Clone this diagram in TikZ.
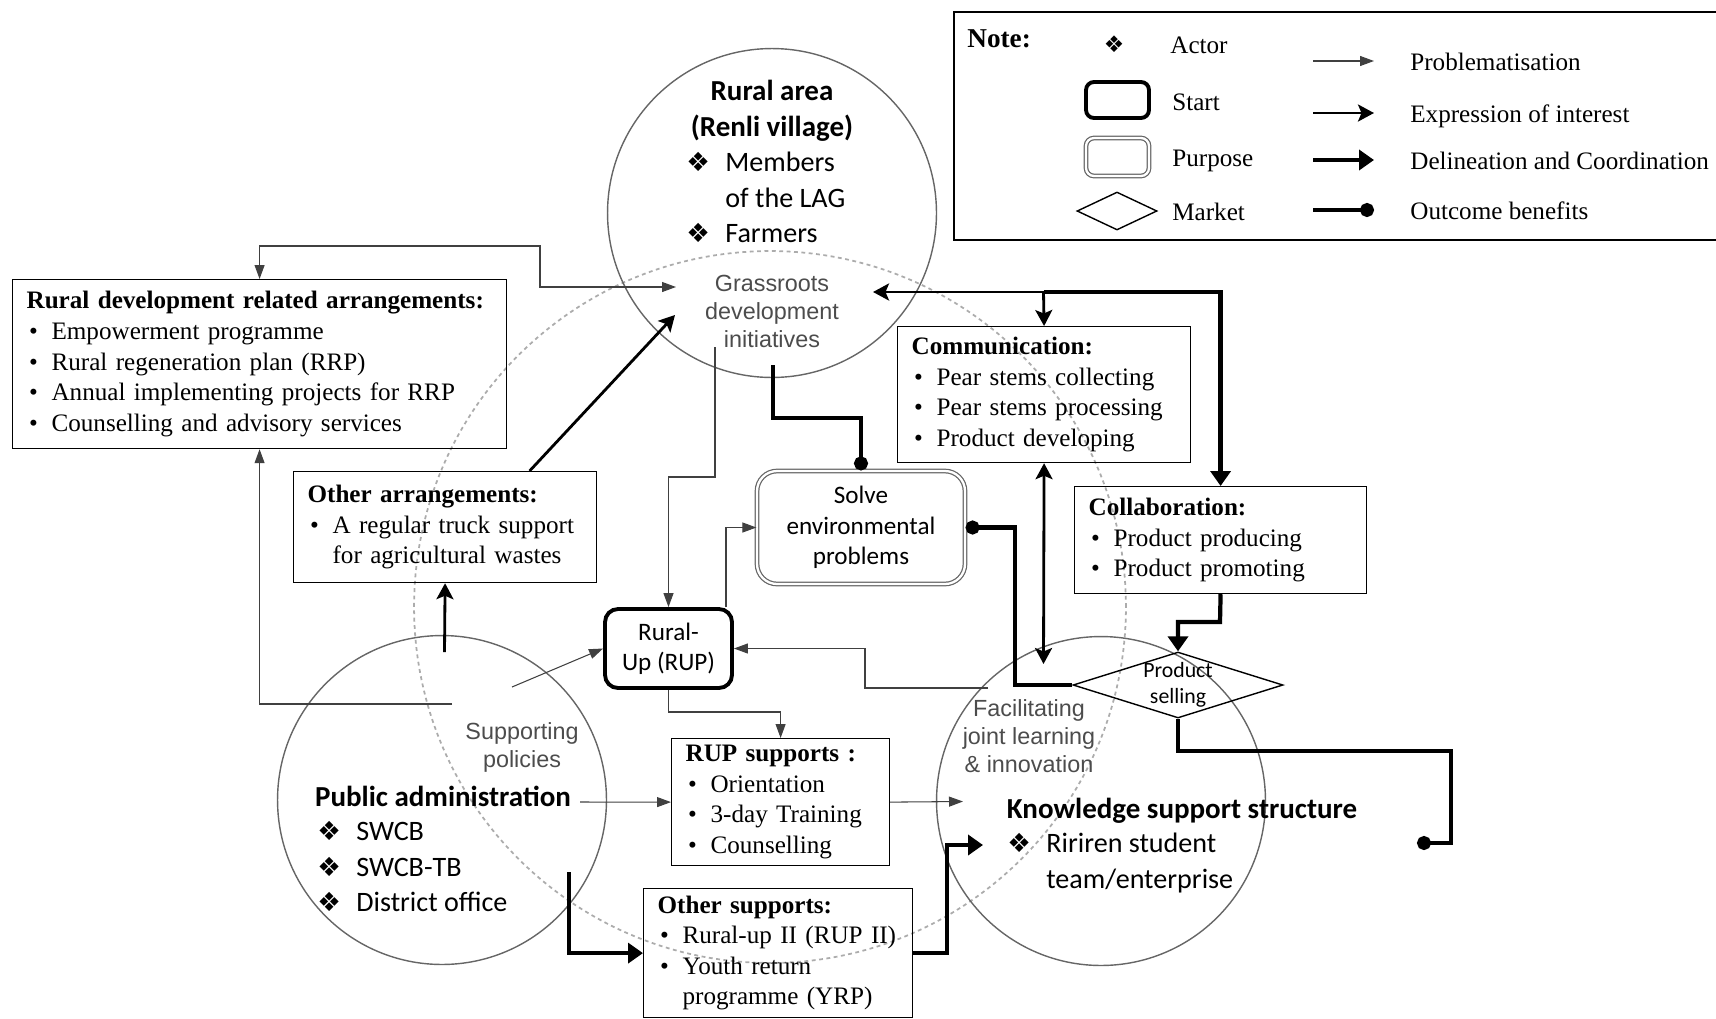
\documentclass[tikz,border=0pt]{standalone}
\usepackage{fontspec}
\setmainfont{Liberation Serif}
\newfontfamily\calib{Carlito}
\newfontfamily\grfont{Liberation Sans}
\newfontfamily\symfont{DejaVu Sans}
\usetikzlibrary{arrows.meta,shapes.geometric}

\newcommand{\act}{\makebox[0.78cm][l]{\symfont\fontsize{15}{15}\selectfont ❖}}
\newcommand{\itm}{\makebox[0.5cm][l]{\hspace{0.05cm}\textbullet}}

\begin{document}
\begin{tikzpicture}[
        x=0.02cm, y=-0.02cm,
        prob/.style={line width=0.6pt, draw=black!75, >={Triangle[length=0.28cm,width=0.2cm]}},
        expr/.style={line width=1.6pt, >={Stealth[length=0.32cm,width=0.34cm,inset=0.07cm]}},
        deli/.style={line width=2.4pt, >={Triangle[length=0.3cm,width=0.4cm]}},
        outc/.style={line width=2.4pt, -{Circle[length=0.28cm]}},
        box/.style={draw, line width=0.7pt, anchor=north west, align=left,
            inner xsep=0.28cm, inner ysep=0pt, font=\fontsize{14.3}{17.4}\selectfont},
        actor/.style={circle, draw=black!60, line width=0.8pt, minimum size=6.58cm, inner sep=0},
        start/.style={draw, line width=2.2pt, rounded corners=0.26cm, align=center},
        purp/.style={draw=black!60, double, double distance=1.3pt, line width=0.7pt,
            rounded corners=0.4cm, align=center},
        market/.style={diamond, draw, line width=0.8pt, inner sep=0},
        ctxt/.style={font=\calib\fontsize{16}{20}\selectfont, inner sep=0},
        ttxt/.style={inner sep=0, font=\calib\bfseries\fontsize{16.5}{20}\selectfont},
        gtxt/.style={text=black!70, font=\grfont\fontsize{13.3}{15.9}\selectfont, align=center, inner sep=0},
        ltxt/.style={anchor=base west, inner sep=0, font=\fontsize{14.3}{17}\selectfont},
        ]
        \useasboundingbox (0,0) rectangle (1716,1018);

        % Actors and the wider network
        \node[circle, draw=gray!65, line width=1pt, dash pattern=on 2.2pt off 2pt,
            minimum size=14.24cm, inner sep=0] (net) at (770,607) {};
        \node[actor] (rural) at (772,213) {};
        \node[actor] (admin) at (442,800) {};
        \node[actor] (know) at (1101,801) {};

        % Circle texts
        \node[ttxt, anchor=north, align=center] (ruraltit) at (772,76) {\strut Rural area\\(Renli village)};
        \node[ctxt, anchor=north west, align=left] (rurallst) at (686,147)
            {\strut\act Members\\\hspace*{0.78cm}of the LAG\\\act Farmers};
        \node[gtxt, anchor=north] (grass) at (772,272) {\strut Grassroots\\development\\initiatives};

        \node[gtxt, anchor=north] (supp) at (522,720) {\strut Supporting\\policies};
        \node[ttxt, anchor=base] (admintit) at (443,806) {Public administration};
        \node[ctxt, anchor=north west, align=left] (adminlst) at (317,816)
            {\strut\act SWCB\\\act SWCB-TB\\\act District office};

        \node[gtxt, anchor=north] (facil) at (1029,697) {\strut Facilitating\\joint learning\\\& innovation};
        \node[ttxt, anchor=base] (knowtit) at (1182,818) {Knowledge support structure};
        \node[ctxt, anchor=north west, align=left] (knowlst) at (1007,828)
            {\strut\act Ririren student\\\hspace*{0.78cm}team/enterprise};

        % Arrangement boxes
        \node[box, text width=9.32cm, minimum height=3.38cm] (rda) at (12,279)
            {\textbf{Rural development related arrangements:}\\
             \itm Empowerment programme\\
             \itm Rural regeneration plan (RRP)\\
             \itm Annual implementing projects for RRP\\
             \itm Counselling and advisory services};
        \node[box, text width=5.5cm, minimum height=2.22cm] (oarr) at (293,471)
            {\textbf{Other arrangements:}\\
             \itm A regular truck support\\
             \hspace*{0.5cm}for agricultural wastes};
        \node[box, text width=5.3cm, minimum height=2.72cm] (comm) at (897,326)
            {\textbf{Communication:}\\
             \itm Pear stems collecting\\
             \itm Pear stems processing\\
             \itm Product developing};
        \node[box, text width=5.28cm, minimum height=2.14cm] (collab) at (1074,486)
            {\textbf{Collaboration:}\\
             \itm Product producing\\
             \itm Product promoting};
        \node[box, text width=3.8cm, minimum height=2.54cm] (rupsup) at (671,738)
            {\textbf{RUP supports :}\\
             \itm Orientation\\
             \itm 3-day Training\\
             \itm Counselling};
        \node[box, text width=4.82cm, minimum height=2.58cm] (osup) at (643,888)
            {\textbf{Other supports:}\\
             \itm Rural-up II (RUP II)\\
             \itm Youth return\\
             \hspace*{0.5cm}programme (YRP)};

        % Start, purpose and market
        \node[start, minimum width=2.54cm, minimum height=1.58cm, font=\calib\fontsize{14.3}{17}\selectfont]
            (rup) at (668.5,648.5) {Rural-\\Up (RUP)};
        \node[purp, minimum width=4.16cm, minimum height=2.26cm, font=\calib\fontsize{14.3}{17.5}\selectfont]
            (solve) at (861,527.5) {Solve\\environmental\\problems};
        \node[market, minimum width=4.2cm, minimum height=1.32cm] (sell) at (1178,685) {};
        \node[align=center, inner sep=0, font=\calib\fontsize{12.4}{14.7}\selectfont]
            (selltxt) at (sell.center) {Product\\selling};

        % Free ends
        \coordinate (g1) at (676,287);
        \coordinate (g2) at (675,315);
        \coordinate (g3) at (715,347);
        \coordinate (g4) at (773,365);
        \coordinate (g5) at (873,292);
        \coordinate (jn) at (1043.5,292);
        \coordinate (p1) at (452,704);
        \coordinate (p2) at (444.5,652);
        \coordinate (p3) at (512,687);
        \coordinate (p4) at (580,802);
        \coordinate (p5) at (569,872);
        \coordinate (k1) at (988,688);
        \coordinate (k2) at (963,801.5);
        \coordinate (k3) at (983,845);
        \coordinate (k4) at (1043.5,664);
        \coordinate (k5) at (1417,843);

        % Connectors
        \draw[prob,<->] (rda.north) |- (540,246) |- (g1);
        \draw[prob,->] (p1) -| (rda.south);
        \draw[expr,->] (p2) -- (oarr.south);
        \draw[expr,->] ([xshift=1.69cm]oarr.north) -- (g2);
        \draw[prob,->] (p3) -- (rup.west);
        \draw[prob,->] (g3) -- (715,477) -| (rup.north);
        \draw[prob,->] ([xshift=1.15cm]rup.north) |- (solve.west);
        \draw[outc] (g4) -- (773,418) -| (solve.north);
        \draw[outc] (sell.west) -| (1015,560) |- (solve.east);
        \draw[expr,->] (jn) -- (g5);
        \draw[expr,->] (jn) -- (comm.north);
        \draw[deli,->] (jn) -| (collab.north);
        \draw[expr,<->] (comm.south) -- (k4);
        \draw[deli,->] (collab.south) -- (1220,622) -| (sell.north);
        \draw[outc] (sell.south) |- (1451,751) |- (k5);
        \draw[prob,->] (k1) -- (865,688) |- (rup.east);
        \draw[prob,->] (rup.south) -- (668.5,712) -| (rupsup.north);
        \draw[prob,->] (p4) -- (rupsup.west);
        \draw[prob,->] (rupsup.east) -- (k2);
        \draw[deli,->] (p5) |- (osup.west);
        \draw[deli,->] (osup.east) -| (947,900) |- (k3);

        % Legend
        \node[draw, line width=1pt, anchor=north west, minimum width=15.4cm, minimum height=4.56cm,
            inner sep=0] (note) at (953,11) {};
        \node[anchor=base west, inner sep=0, font=\bfseries\fontsize{15.5}{18}\selectfont] (notetit) at (967,47) {Note:};
        \node[inner sep=0, font=\symfont\fontsize{13}{13}\selectfont] (lact) at (1114,44) {❖};
        \node[start, rounded corners=0.16cm, minimum width=1.26cm, minimum height=0.72cm] (lstart) at (1117.5,100) {};
        \node[purp, rounded corners=0.16cm, minimum width=1.26cm, minimum height=0.76cm] (lpurp) at (1117.5,157) {};
        \node[market, minimum width=1.6cm, minimum height=0.76cm] (lmark) at (1117,211) {};
        \node[ltxt] (tact) at (1170,53) {Actor};
        \node[ltxt] (tstart) at (1172,110) {Start};
        \node[ltxt] (tpurp) at (1172,166) {Purpose};
        \node[ltxt] (tmark) at (1172,220) {Market};
        \draw[prob,->] (1313,61) -- (1374,61);
        \draw[expr,->] (1313,113) -- (1374,113);
        \draw[deli,->] (1313,160) -- (1374,160);
        \draw[outc] (1313,210) -- (1374,210);
        \node[ltxt] (tprob) at (1410,70) {Problematisation};
        \node[ltxt] (texpr) at (1410,122) {Expression of interest};
        \node[ltxt] (tdeli) at (1410,169) {Delineation and Coordination};
        \node[ltxt] (toutc) at (1410,219) {Outcome benefits};

    \end{tikzpicture}
\end{document}
